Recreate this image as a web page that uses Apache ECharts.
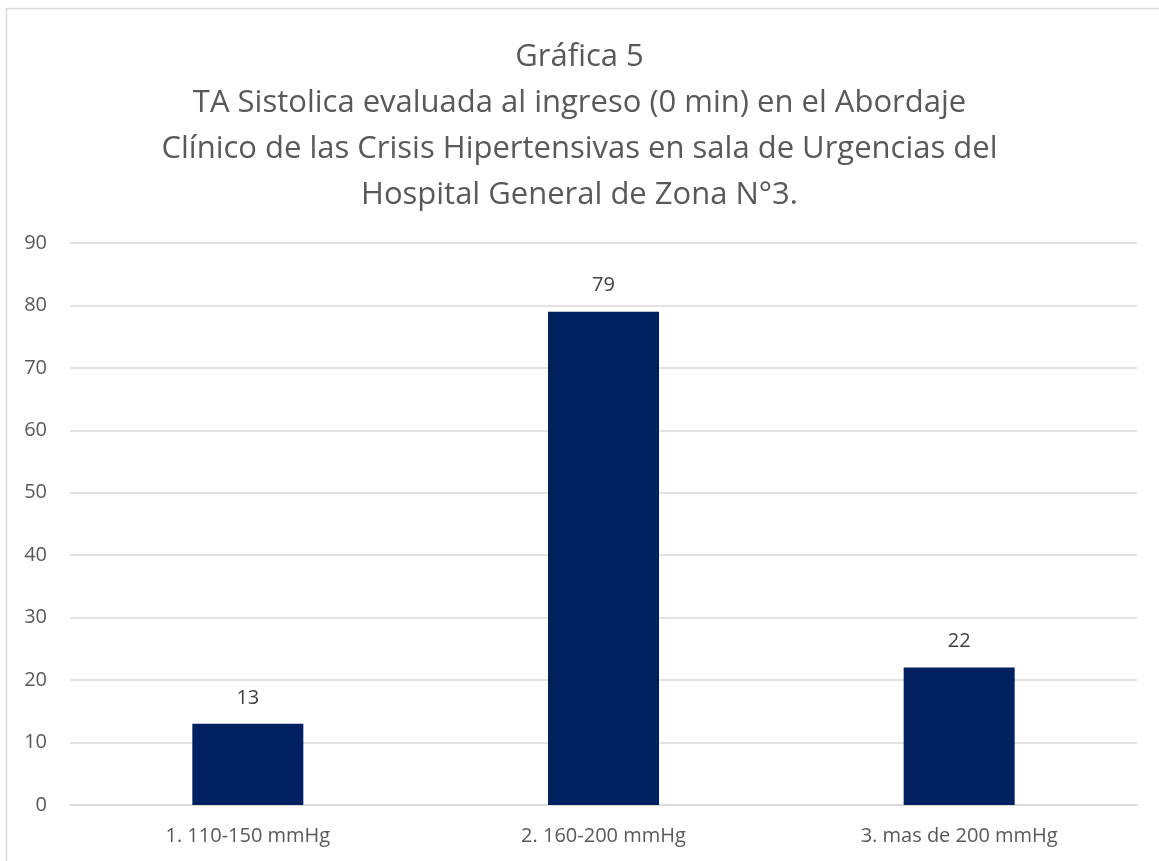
<!DOCTYPE html>
<html>
<head>
<meta charset="utf-8">
<script src="https://cdn.jsdelivr.net/npm/echarts@6/dist/echarts.min.js"></script>
<style>
  html, body { margin: 0; padding: 0; background: #fff; }
  #main { width: 1159px; height: 861px; }
</style>
</head>
<body>
<div id="main"></div>
<script>
var categories = ['1. 110-150 mmHg', '2. 160-200 mmHg', '3. mas de 200 mmHg'];
var values = [13, 79, 22];
var titleText = 'Gráfica 5\nTA Sistolica evaluada al ingreso (0 min) en el Abordaje\nClínico de las Crisis Hipertensivas en sala de Urgencias del\nHospital General de Zona N°3.';

var myChart = echarts.init(document.getElementById('main'));

var option = {
    animation: false,
    backgroundColor: '#fff',
    textStyle: { fontFamily: '"Open Sans", sans-serif' },
    graphic: [{
        type: 'rect',
        shape: { x: 6.5, y: 8.5, width: 1160, height: 860 },
        style: { fill: 'none', stroke: '#d9d9d9', lineWidth: 1.5 },
        silent: true
    }],
    title: {
        text: titleText,
        left: 'center',
        top: 29,
        textStyle: {
            fontFamily: '"Open Sans", sans-serif',
            fontSize: 31,
            fontWeight: 'normal',
            color: '#595959',
            lineHeight: 46
        }
    },
    grid: {
        left: 70,
        right: 22,
        top: 243,
        bottom: 56
    },
    xAxis: {
        type: 'category',
        data: categories,
        axisLine: { lineStyle: { color: '#d9d9d9', width: 1.5 } },
        axisTick: { show: false },
        axisLabel: { color: '#595959', fontSize: 20, margin: 21 }
    },
    yAxis: {
        type: 'value',
        min: 0,
        max: 90,
        interval: 10,
        axisLine: { show: false },
        axisTick: { show: false },
        axisLabel: { color: '#595959', fontSize: 20, margin: 23 },
        splitLine: { lineStyle: { color: '#d9d9d9', width: 1.5 } }
    },
    series: [{
        type: 'bar',
        data: values,
        barWidth: 111,
        itemStyle: { color: '#002060' },
        label: {
            show: true,
            position: 'top',
            distance: 16,
            color: '#404040',
            fontSize: 20
        }
    }]
};

myChart.setOption(option);
</script>
</body>
</html>
